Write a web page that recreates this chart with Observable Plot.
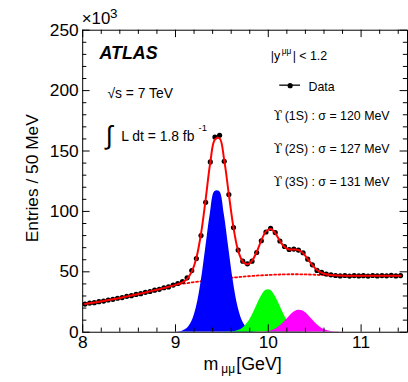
<!DOCTYPE html>
<html><head><meta charset="utf-8">
<script src="https://cdn.jsdelivr.net/npm/d3@7"></script>
<script src="https://cdn.jsdelivr.net/npm/@observablehq/plot@0.6"></script>
<style>
html,body{margin:0;padding:0;background:#fff;overflow:hidden;width:408px;height:382px}
#chart svg{display:block}
</style></head><body><div id="chart"></div>
<script>
// Bin centres: 50 MeV bins starting at 8.025 GeV
const binStart = 8.025;
const binWidth = 0.05;

// Data (entries / 50 MeV, in units of 10^3)
const dataCounts = [
  23.3, 24.1, 24.5, 25.3, 25.8, 26.7, 27.2, 28.1, 28.7, 29.7, 30.3, 31.3, 31.9, 33.0, 33.7, 34.8, 35.5, 36.8, 37.5, 39.0,
  40.3, 42.0, 45.0, 51.0, 61.0, 80.0, 107.5, 141, 161.5, 163, 141.5, 114, 86.6, 68, 58.8, 56.6, 58.8, 66, 75.7, 83,
  86, 82.5, 75.5, 71, 68.5, 68.8, 68, 65.8, 60.5, 55.8, 51.2, 49.5, 48.2, 47.5, 47.0, 46.6, 47.0, 46.5, 46.9, 46.6,
  46.8, 46.5, 47.0, 46.6, 46.9, 46.7, 47.1, 46.6, 46.9
];

// Total fit (solid red)
const fitCounts = [
  23.4, 24.0, 24.6, 25.2, 25.9, 26.6, 27.3, 28.0, 28.8, 29.6, 30.4, 31.2, 32.0, 32.9, 33.8, 34.7, 35.6, 36.6, 37.6, 38.6,
  39.8, 41.3, 44.2, 50.2, 61.5, 81.5, 110, 140.5, 159.5, 160.5, 142.5, 114, 86.5, 67.5, 58.5, 56.2, 59.2, 66.5, 76, 83.5,
  85.5, 82, 75.5, 70.5, 68.5, 68.5, 68, 65.5, 60.5, 55.5, 51.5, 49.2, 48, 47.4, 47.1, 46.9, 46.8, 46.8, 46.8, 46.8,
  46.8, 46.8, 46.8, 46.8, 46.8, 46.8, 46.8, 46.8, 46.8
];

// Background component (dotted red)
const bkgCounts = [
  23.4, 24.0, 24.6, 25.2, 25.9, 26.6, 27.3, 28.0, 28.8, 29.6, 30.4, 31.2, 32.0, 32.9, 33.8, 34.7, 35.6, 36.6, 37.6, 38.6,
  39.4, 40.1, 40.7, 41.2, 41.7, 42.2, 42.7, 43.2, 43.6, 44.0, 44.4, 44.8, 45.2, 45.6, 46.0, 46.3, 46.6, 46.9, 47.1, 47.3,
  47.5, 47.7, 47.8, 47.9, 48.0, 48.0, 48.0, 47.9, 47.8, 47.7, 47.5, 47.3, 47.1, 47.0, 46.9, 46.9, 46.8, 46.8, 46.8, 46.8,
  46.8, 46.8, 46.8, 46.8, 46.8, 46.8, 46.8, 46.8, 46.8
];

// Signal components (filled)
const ups1SStart = 8.925;
const ups1S = [0, 0.05, 0.2, 0.9, 3.0, 8.6, 20.5, 41.1, 69.1, 97.9, 116.5, 116.5, 97.9, 69.1, 41.1, 20.5, 8.6, 3.0, 0.9, 0.2, 0.05, 0];
const ups2SStart = 9.525;
const ups2S = [0, 0.13, 0.45, 1.35, 3.4, 7.4, 13.7, 21.9, 29.8, 34.8, 34.8, 29.8, 21.9, 13.7, 7.4, 3.4, 1.35, 0.45, 0.13, 0];
const ups3SStart = 9.875;
const ups3S = [0, 0.14, 0.42, 1.1, 2.5, 5.1, 8.7, 12.9, 16.5, 18.2, 17.5, 14.5, 10.3, 6.4, 3.4, 1.6, 0.6, 0.2, 0.07, 0];

// Legend resolution labels
const stateLabels = ["(1S) : σ = 120 MeV", "(2S) : σ = 127 MeV", "(3S) : σ = 131 MeV"];

// Ticks
const xMajorTicks = [8, 9, 10, 11];
const xMinorTicks = [8.2, 8.4, 8.6, 8.8, 9.2, 9.4, 9.6, 9.8, 10.2, 10.4, 10.6, 10.8, 11.2, 11.4];
const yMajorTicks = [0, 50, 100, 150, 200, 250];
const yMinorTicks = [10, 20, 30, 40, 60, 70, 80, 90, 110, 120, 130, 140, 160, 170, 180, 190, 210, 220, 230, 240];

const toRows = (vals, start) => vals.map((v, i) => ({x: start + i * binWidth, y: v}));
const dataRows = toRows(dataCounts, binStart);
const fitRows = toRows(fitCounts, binStart);
const bkgRows = toRows(bkgCounts, binStart);
const s1Rows = toRows(ups1S, ups1SStart);
const s2Rows = toRows(ups2S, ups2SStart);
const s3Rows = toRows(ups3S, ups3SStart);

const W = 412, H = 382, mT = 30, mB = 47, mL = 83, mR = 1;
const innerH = H - mT - mB, innerW = W - mL - mR;
const FONT = "'Liberation Sans', Arial, Helvetica, 'DejaVu Sans', sans-serif";
const SERIF = "'DejaVu Serif', 'Liberation Serif', serif";
const majL = 7.5, minL = 4.2;

const txt = (s, o) => Plot.text([s], Object.assign({frameAnchor: "top-left", textAnchor: "start", lineAnchor: "middle", fill: "black", fontFamily: FONT}, o));

const legendStates = stateLabels.flatMap((lab, i) => [
  txt("ϒ", {dx: 193, dy: 87 + 33 * i, fontSize: 12.5, fontFamily: SERIF}),
  txt(lab, {dx: 204, dy: 87 + 33 * i, fontSize: 12.5})
]);

const plot = Plot.plot({
  width: W, height: H,
  marginTop: mT, marginBottom: mB, marginLeft: mL, marginRight: mR,
  x: {domain: [8, 11.5], label: null},
  y: {domain: [0, 250], label: null},
  style: {fontFamily: FONT, background: "white", color: "black", overflow: "visible"},
  marks: [
    Plot.line(bkgRows, {x: "x", y: "y", stroke: "#ff0000", strokeWidth: 1.8, strokeDasharray: "2,2.4", curve: "catmull-rom"}),
    Plot.areaY(s1Rows, {x: "x", y: "y", fill: "#0000ff", curve: "catmull-rom", clip: true}),
    Plot.areaY(s2Rows, {x: "x", y: "y", fill: "#00ff00", curve: "catmull-rom", clip: true}),
    Plot.areaY(s3Rows, {x: "x", y: "y", fill: "#ff00ff", curve: "catmull-rom", clip: true}),
    Plot.dot(dataRows, {x: "x", y: "y", r: 2.6, fill: "black", stroke: "none"}),
    Plot.line(fitRows, {x: "x", y: "y", stroke: "#ff0000", strokeWidth: 2, curve: "catmull-rom"}),
    Plot.frame({stroke: "black", strokeWidth: 1}),
    // inward ticks on all four sides
    Plot.tickX(xMajorTicks, {insetTop: innerH - majL, stroke: "black"}),
    Plot.tickX(xMajorTicks, {insetBottom: innerH - majL, stroke: "black"}),
    Plot.tickX(xMinorTicks, {insetTop: innerH - minL, stroke: "black"}),
    Plot.tickX(xMinorTicks, {insetBottom: innerH - minL, stroke: "black"}),
    Plot.tickY(yMajorTicks, {insetRight: innerW - majL, stroke: "black"}),
    Plot.tickY(yMajorTicks, {insetLeft: innerW - majL, stroke: "black"}),
    Plot.tickY(yMinorTicks, {insetRight: innerW - minL, stroke: "black"}),
    Plot.tickY(yMinorTicks, {insetLeft: innerW - minL, stroke: "black"}),
    Plot.axisX({ticks: xMajorTicks, tickSize: 0, tickPadding: 3, fontSize: 17.5, label: null, tickFormat: d => String(d)}),
    Plot.axisY({ticks: yMajorTicks, tickSize: 0, tickPadding: 4, fontSize: 17.5, label: null, tickFormat: d => String(d)}),
    // exponent
    txt("×10", {dx: -1, dy: -11.5, fontSize: 17}),
    txt("3", {dx: 27.5, dy: -17, fontSize: 13.5}),
    // axis titles
    Plot.text(["Entries / 50 MeV"], {frameAnchor: "left", dx: -51, dy: -3, rotate: -90, fontSize: 17.5, textAnchor: "middle", lineAnchor: "middle", fontFamily: FONT}),
    txt("m", {frameAnchor: "bottom-left", dx: 122, dy: 32, fontSize: 18}),
    txt("μμ", {frameAnchor: "bottom-left", dx: 140, dy: 37, fontSize: 12}),
    txt("[GeV]", {frameAnchor: "bottom-left", dx: 155, dy: 32, fontSize: 18}),
    // annotations
    txt("ATLAS", {dx: 17, dy: 23.5, fontSize: 18, fontWeight: "bold", fontStyle: "italic"}),
    txt("√s = 7 TeV", {dx: 25, dy: 64, fontSize: 14}),
    txt("∫", {dx: 23, dy: 107, fontSize: 26}),
    txt("L dt = 1.8 fb", {dx: 39, dy: 107, fontSize: 14}),
    txt("-1", {dx: 117, dy: 99, fontSize: 9.5}),
    txt("|y", {dx: 190, dy: 26, fontSize: 12.5}),
    txt("μμ", {dx: 201, dy: 21, fontSize: 8.5}),
    txt("| < 1.2", {dx: 212, dy: 26, fontSize: 12.5}),
    Plot.dot([0], {frameAnchor: "top-left", dx: 209.5, dy: 56, r: 2.6, fill: "black", stroke: "none"}),
    txt("Data", {dx: 228, dy: 57, fontSize: 12.5}),
    ...legendStates
  ]
});

// legend sample line for "Data"
d3.select(plot).append("line")
  .attr("x1", mL + 199).attr("x2", mL + 220)
  .attr("y1", mT + 56).attr("y2", mT + 56)
  .attr("stroke", "black").attr("stroke-width", 1.3);

document.getElementById("chart").appendChild(plot);
</script>
</body></html>
